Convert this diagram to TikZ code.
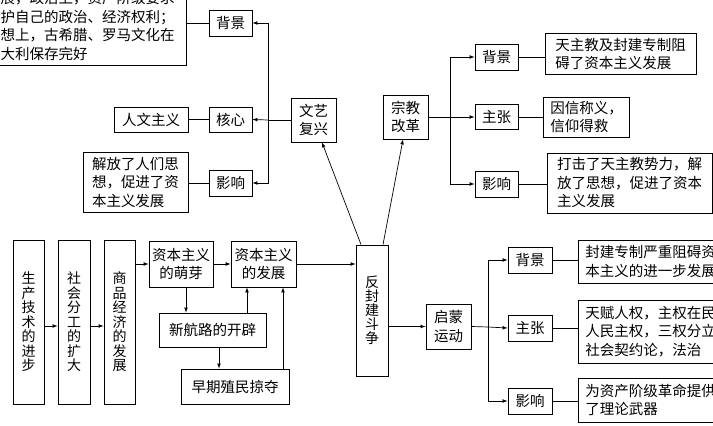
\documentclass[tikz,border=0pt]{standalone}
\usepackage{fontspec}
\newfontfamily\cjk{Noto Sans CJK SC}
\usetikzlibrary{arrows, positioning}

\tikzset{
  box/.style={draw, line width=0.9pt, inner sep=0pt, align=center, font=\cjk\fontsize{14.5}{18.5}\selectfont},
  tag/.style={box, minimum width=43pt, minimum height=26pt},
  pair/.style={box, minimum width=45pt, minimum height=44pt},
  note/.style={box, align=left, inner xsep=7pt},
  vbox/.style={box, minimum width=31pt, minimum height=164pt, font=\cjk\fontsize{14}{14.5}\selectfont},
  link/.style={line width=0.7pt},
  arr/.style={link, ->}
}

\begin{document}
\begin{tikzpicture}[x=1pt, y=-1pt, >=latex]
\useasboundingbox (0,0) rectangle (713,426);
\clip (0,0) rectangle (713,426);
%Renaissance and its three branches
\node[pair] (wyfx) at (313.5,120) {文艺\\复兴};
\node[tag] (rnbg) at (230.5,23) {背景};
\node[tag, minimum height=25pt] (rnhx) at (230.5,119.5) {核心};
\node[tag] (rnyx) at (230.5,183) {影响};
\node[box, align=left, text width=188.5pt, inner xsep=12pt, inner ysep=5pt, anchor=south east] (rnbgtxt) at (187,66)
  {发展，政治上，资产阶级要求\\维护自己的政治、经济权利；\\思想上，古希腊、罗马文化在\\意大利保存完好};
\node[box, minimum width=74pt, minimum height=25pt] (rnhxtxt) at (151,119.5) {人文主义};
\node[note, minimum width=105pt, minimum height=60pt] (rnyxtxt) at (135.5,182) {解放了人们思\\想，促进了资\\本主义发展};
\coordinate (rnsplit) at (268,120);
\draw[link] (wyfx.west) -- (rnsplit);
\draw[arr] (rnsplit) |- (rnbg.east);
\draw[arr] (rnsplit) -- (rnhx.east);
\draw[arr] (rnsplit) |- (rnyx.east);
\draw[link] (rnbg.west) -- (rnbg.west -| rnbgtxt.east);
\draw[link] (rnhx.west) -- (rnhxtxt.east);
\draw[link] (rnyx.west) -- (rnyx.west -| rnyxtxt.east);

%Reformation and its three branches
\node[pair] (zjgg) at (405.5,117) {宗教\\改革};
\node[tag] (zjbg) at (496.5,57) {背景};
\node[tag, minimum height=25pt] (zjzz) at (496.5,117) {主张};
\node[tag] (zjyx) at (496.5,184) {影响};
\node[note, minimum width=151pt, minimum height=41pt] (zjbgtxt) at (620.5,54) {天主教及封建专制阻\\碍了资本主义发展};
\node[note, minimum width=81pt, minimum height=40pt] (zjzztxt) at (586.5,117) {因信称义，\\信仰得救};
\node[note, minimum width=165pt, minimum height=60pt] (zjyxtxt) at (629.5,183) {打击了天主教势力，解\\放了思想，促进了资本\\主义发展};
\coordinate (zjsplit) at (450,117);
\draw[link] (zjgg.east) -- (zjsplit);
\draw[arr] (zjsplit) |- (zjbg.west);
\draw[arr] (zjsplit) -- (zjzz.west);
\draw[arr] (zjsplit) |- (zjyx.west);
\draw[link] (zjbg.east) -- (zjbg.east -| zjbgtxt.west);
\draw[link] (zjzz.east) -- (zjzztxt.west);
\draw[link] (zjyx.east) -- (zjyx.east -| zjyxtxt.west);

%anti-feudal struggle
\node[box, minimum width=32pt, minimum height=131pt, font=\cjk\fontsize{14}{14}\selectfont] (fjdz) at (372,310.5) {反\\封\\建\\斗\\争};
\draw[arr] ([xshift=-11pt]fjdz.north) -- ([xshift=8.5pt]wyfx.south);
\draw[arr] ([xshift=11pt]fjdz.north) -- ([xshift=-2.5pt]zjgg.south);

%Enlightenment and its three branches
\node[pair, minimum height=45pt] (qmyd) at (448.5,326.5) {启蒙\\运动};
\node[tag, minimum width=44pt] (qmbg) at (530,260) {背景};
\node[tag, minimum width=44pt] (qmzz) at (530,328) {主张};
\node[tag, minimum width=44pt] (qmyx) at (530,401) {影响};
\node[note, minimum height=43pt, anchor=west] (qmbgtxt) at (578,261.5) {封建专制严重阻碍资\\本主义的进一步发展};
\node[note, minimum height=63pt, anchor=west] (qmzztxt) at (578,331.5) {天赋人权，主权在民\\人民主权，三权分立\\社会契约论，法治};
\node[note, minimum height=44pt, anchor=west] (qmyxtxt) at (578,400) {为资产阶级革命提供\\了理论武器};
\coordinate (qmsplit) at (488,327);
\draw[arr] (fjdz.east |- qmyd.west) -- (qmyd.west);
\draw[link] (qmyd.east) -- (qmsplit);
\draw[arr] (qmsplit) |- (qmbg.west);
\draw[arr] (qmsplit) -- (qmzz.west);
\draw[arr] (qmsplit) |- (qmyx.west);
\draw[link] (qmbg.east) -- (qmbg.east -| qmbgtxt.west);
\draw[link] (qmzz.east) -- (qmzz.east -| qmzztxt.west);
\draw[link] (qmyx.east) -- (qmyx.east -| qmyxtxt.west);

%economic chain at the bottom
\node[vbox] (scjs) at (28.5,322) {生\\产\\技\\术\\的\\进\\步};
\node[vbox, minimum width=32pt] (shfg) at (74,322) {社\\会\\分\\工\\的\\扩\\大};
\node[vbox] (spjj) at (119.5,322) {商\\品\\经\\济\\的\\发\\展};
\node[box, minimum width=64pt, minimum height=46pt] (zbmy) at (181,264) {资本主义\\的萌芽};
\node[box, minimum width=65pt, minimum height=46pt] (zbfz) at (263.5,264) {资本主义\\的发展};
\node[box, minimum width=107pt, minimum height=34pt] (xhl) at (212.5,330) {新航路的开辟};
\node[box, minimum width=108pt, minimum height=35pt] (zqzm) at (235,386.5) {早期殖民掠夺};
\draw[arr] (scjs.east |- 0,326) -- (shfg.west |- 0,326);
\draw[arr] (shfg.east |- 0,326) -- (spjj.west |- 0,326);
\draw[arr] (spjj.east |- zbmy.west) -- (zbmy.west);
\draw[arr] (zbmy.east) -- (zbfz.west);
\draw[arr] ([xshift=5pt]zbmy.south) -- ([xshift=5pt]zbmy.south |- xhl.north);
\draw[arr] ([xshift=-16.5pt]zbfz.south |- xhl.north) -- ([xshift=-16.5pt]zbfz.south);
\draw[arr] ([xshift=6.5pt]xhl.south) -- ([xshift=6.5pt]xhl.south |- zqzm.north);
\draw[arr] ([xshift=19.5pt]zbfz.south |- zqzm.north) -- ([xshift=19.5pt]zbfz.south);
\draw[arr] (zbfz.east) -- (zbfz.east -| fjdz.west);
\end{tikzpicture}
\end{document}
